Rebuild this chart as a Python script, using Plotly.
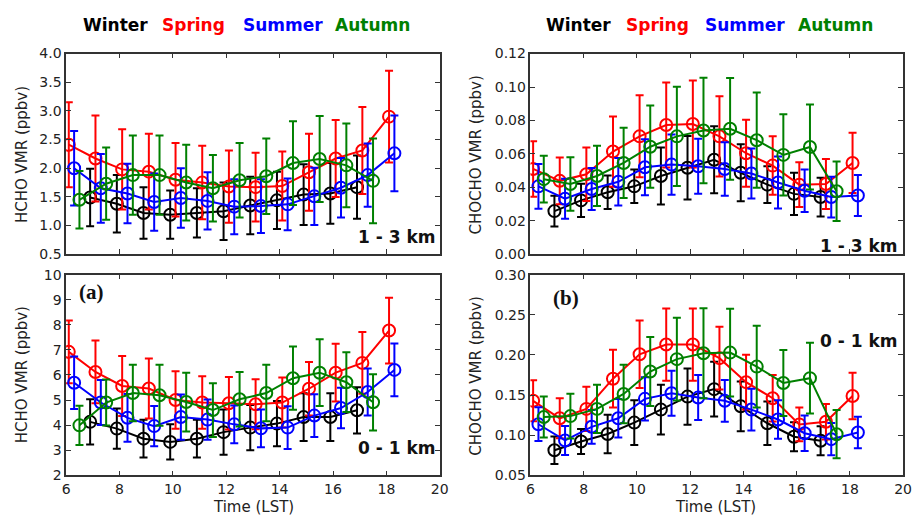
import plotly.graph_objects as go

# ---------------- data ----------------
winter_t = [6.9, 7.9, 8.9, 9.9, 10.9, 11.9, 12.9, 13.9, 14.9, 15.9, 16.9]
spring_t = [6.1, 7.1, 8.1, 9.1, 10.1, 11.1, 12.1, 13.1, 14.1, 15.1, 16.1, 17.1, 18.1]
summer_t = [6.3, 7.3, 8.3, 9.3, 10.3, 11.3, 12.3, 13.3, 14.3, 15.3, 16.3, 17.3, 18.3]
autumn_t = [6.5, 7.5, 8.5, 9.5, 10.5, 11.5, 12.5, 13.5, 14.5, 15.5, 16.5, 17.5]

# HCHO 1-3 km
hcho13_winter = [1.49, 1.38, 1.22, 1.19, 1.22, 1.25, 1.35, 1.44, 1.54, 1.56, 1.67]
hcho13_winter_err = [0.5, 0.5, 0.45, 0.42, 0.43, 0.5, 0.5, 0.5, 0.53, 0.53, 0.55]
hcho13_spring = [2.41, 2.17, 1.98, 1.94, 1.80, 1.75, 1.68, 1.67, 1.69, 1.93, 2.17, 2.31, 2.90]
hcho13_spring_err = [0.74, 0.75, 0.7, 0.66, 0.64, 0.64, 0.63, 0.6, 0.6, 0.67, 0.67, 0.76, 0.8]
hcho13_summer = [2.0, 1.65, 1.56, 1.41, 1.48, 1.43, 1.33, 1.34, 1.37, 1.51, 1.66, 1.88, 2.26]
hcho13_summer_err = [0.65, 0.6, 0.52, 0.5, 0.52, 0.5, 0.48, 0.47, 0.45, 0.5, 0.52, 0.55, 0.66]
hcho13_autumn = [1.45, 1.73, 1.88, 1.88, 1.75, 1.65, 1.79, 1.86, 2.09, 2.16, 2.05, 1.78]
hcho13_autumn_err = [0.5, 0.63, 0.69, 0.69, 0.66, 0.58, 0.65, 0.66, 0.73, 0.75, 0.73, 0.74]

# HCHO 0-1 km
hcho01_winter = [4.13, 3.86, 3.46, 3.33, 3.46, 3.72, 3.9, 4.06, 4.32, 4.32, 4.59]
hcho01_winter_err = [0.9, 0.8, 0.75, 0.7, 0.75, 0.9, 0.9, 0.9, 0.95, 0.95, 0.92]
hcho01_spring = [6.92, 6.12, 5.56, 5.46, 5.0, 4.9, 4.87, 4.83, 4.9, 5.45, 6.09, 6.48, 7.77]
hcho01_spring_err = [1.25, 1.25, 1.2, 1.2, 1.15, 1.05, 1.05, 1.0, 1.0, 1.07, 1.15, 1.23, 1.31]
hcho01_summer = [5.69, 4.9, 4.29, 3.96, 4.32, 4.22, 4.03, 3.87, 3.9, 4.38, 4.68, 5.32, 6.2]
hcho01_summer_err = [1.05, 0.9, 0.95, 0.8, 0.9, 0.8, 0.75, 0.75, 0.85, 0.85, 0.81, 0.94, 1.05]
hcho01_autumn = [3.99, 4.9, 5.28, 5.19, 4.92, 4.6, 5.03, 5.28, 5.87, 6.09, 5.71, 4.91]
hcho01_autumn_err = [0.78, 0.92, 1.13, 1.22, 1.17, 1.07, 1.09, 1.13, 1.26, 1.33, 1.19, 1.12]

# CHOCHO 1-3 km
chocho13_winter = [0.0258, 0.0322, 0.0371, 0.0406, 0.0468, 0.0517, 0.0565, 0.0487, 0.0416, 0.0361, 0.0342]
chocho13_winter_err = [0.0092, 0.01, 0.01, 0.01, 0.017, 0.019, 0.02, 0.017, 0.011, 0.0126, 0.0116]
chocho13_spring = [0.051, 0.0439, 0.0478, 0.0614, 0.0705, 0.0773, 0.0779, 0.0705, 0.0604, 0.053, 0.0416, 0.042, 0.0546]
chocho13_spring_err = [0.0166, 0.014, 0.016, 0.021, 0.0245, 0.0254, 0.026, 0.024, 0.02, 0.0175, 0.0134, 0.015, 0.018]
chocho13_summer = [0.0406, 0.0332, 0.039, 0.0433, 0.052, 0.0536, 0.0526, 0.051, 0.0483, 0.0429, 0.038, 0.0342, 0.0351]
chocho13_summer_err = [0.0134, 0.012, 0.0126, 0.0142, 0.0167, 0.018, 0.0165, 0.016, 0.015, 0.0155, 0.0127, 0.0122, 0.0123]
chocho13_autumn = [0.0449, 0.042, 0.0468, 0.0546, 0.0643, 0.0705, 0.074, 0.075, 0.0682, 0.0594, 0.0641, 0.0377]
chocho13_autumn_err = [0.014, 0.016, 0.018, 0.021, 0.0246, 0.0297, 0.0316, 0.0304, 0.0285, 0.0243, 0.0254, 0.0178]

# CHOCHO 0-1 km
chocho01_winter = [0.0812, 0.0921, 0.1014, 0.1156, 0.1318, 0.148, 0.1573, 0.1359, 0.1148, 0.098, 0.093]
chocho01_winter_err = [0.017, 0.0155, 0.024, 0.028, 0.031, 0.035, 0.034, 0.031, 0.027, 0.018, 0.018]
chocho01_spring = [0.1428, 0.121, 0.1327, 0.1703, 0.2007, 0.2129, 0.2129, 0.1959, 0.166, 0.146, 0.1134, 0.1167, 0.1488]
chocho01_spring_err = [0.0255, 0.025, 0.0275, 0.036, 0.042, 0.045, 0.045, 0.039, 0.034, 0.029, 0.021, 0.022, 0.029]
chocho01_summer = [0.1136, 0.0934, 0.1104, 0.121, 0.1452, 0.1521, 0.1468, 0.1428, 0.1318, 0.1195, 0.1024, 0.095, 0.1033]
chocho01_summer_err = [0.021, 0.018, 0.021, 0.024, 0.027, 0.028, 0.028, 0.026, 0.026, 0.024, 0.022, 0.02, 0.0195]
chocho01_autumn = [0.1225, 0.1237, 0.1327, 0.1513, 0.1793, 0.1947, 0.202, 0.2028, 0.1854, 0.165, 0.171, 0.1012]
chocho01_autumn_err = [0.0255, 0.028, 0.03, 0.0365, 0.043, 0.0514, 0.056, 0.0547, 0.051, 0.041, 0.044, 0.03]

season_names = ["Winter", "Spring", "Summer", "Autumn"]
season_colors = ["#000000", "#ff0000", "#0000ff", "#008000"]
season_times = [winter_t, spring_t, summer_t, autumn_t]

panels = [
    ("x", "y", [hcho13_winter, hcho13_spring, hcho13_summer, hcho13_autumn],
     [hcho13_winter_err, hcho13_spring_err, hcho13_summer_err, hcho13_autumn_err]),
    ("x2", "y2", [chocho13_winter, chocho13_spring, chocho13_summer, chocho13_autumn],
     [chocho13_winter_err, chocho13_spring_err, chocho13_summer_err, chocho13_autumn_err]),
    ("x3", "y3", [hcho01_winter, hcho01_spring, hcho01_summer, hcho01_autumn],
     [hcho01_winter_err, hcho01_spring_err, hcho01_summer_err, hcho01_autumn_err]),
    ("x4", "y4", [chocho01_winter, chocho01_spring, chocho01_summer, chocho01_autumn],
     [chocho01_winter_err, chocho01_spring_err, chocho01_summer_err, chocho01_autumn_err]),
]

W, H = 921, 524
FONT = "DejaVu Sans"


def px_x(x):
    return x / W


def px_y(y):
    return 1 - y / H


fig = go.Figure()
for xa, ya, vals, errs in panels:
    for name, col, t, v, e in zip(season_names, season_colors, season_times, vals, errs):
        fig.add_trace(go.Scatter(
            x=t, y=v, xaxis=xa, yaxis=ya, mode="lines+markers", name=name,
            showlegend=False,
            line=dict(color=col, width=2),
            marker=dict(symbol="circle-open", size=12, color=col, line=dict(width=2, color=col)),
            error_y=dict(type="data", array=e, visible=True, color=col, thickness=2, width=4),
        ))

axis_common = dict(
    showline=True, linecolor="#333333", linewidth=1.5, mirror="allticks",
    ticks="inside", ticklen=5, tickwidth=1, tickcolor="#333333",
    showgrid=False, zeroline=False,
    tickfont=dict(family=FONT, size=14, color="#222222"),
)

xl = [px_x(63), px_x(442)]
xr = [px_x(534), px_x(912)]
yt = [px_y(254), px_y(47)]
yb = [px_y(482), px_y(275)]

fig.update_layout(
    width=W, height=H, margin=dict(l=0, r=0, t=0, b=0),
    paper_bgcolor="white", plot_bgcolor="white",
    font=dict(family=FONT, color="#222222"),
    xaxis=dict(domain=xl, anchor="y", range=[6, 20], dtick=2, showticklabels=False, **axis_common),
    yaxis=dict(domain=yt, anchor="x", range=[0.5, 4.0], dtick=0.5, tickformat=".1f", **axis_common),
    xaxis2=dict(domain=xr, anchor="y2", range=[6, 20], dtick=2, showticklabels=False, **axis_common),
    yaxis2=dict(domain=yt, anchor="x2", range=[0, 0.12], dtick=0.02, tickformat=".2f", **axis_common),
    xaxis3=dict(domain=xl, anchor="y3", range=[6, 20], dtick=2, **axis_common),
    yaxis3=dict(domain=yb, anchor="x3", range=[2, 10], dtick=1, **axis_common),
    xaxis4=dict(domain=xr, anchor="y4", range=[6, 20], dtick=2, **axis_common),
    yaxis4=dict(domain=yb, anchor="x4", range=[0.05, 0.30], dtick=0.05, tickformat=".2f", **axis_common),
)

ann = []
# seasonal legends
for x0 in (78, 548):
    offsets = [0, 80, 162, 256] if x0 == 78 else [0, 81, 161, 255]
    for name, col, off in zip(season_names, season_colors, offsets):
        ann.append(dict(x=px_x(x0 + off), y=px_y(18), xref="paper", yref="paper",
                        text=f"<b>{name}</b>", showarrow=False, xanchor="left", yanchor="middle",
                        font=dict(family=FONT, size=17, color=col)))

# y-axis titles
for cx, cy, txt in [(19, 151, "HCHO VMR (ppbv)"), (479, 152, "CHOCHO VMR (ppbv)"),
                    (19, 378, "HCHO VMR (ppbv)"), (479, 380, "CHOCHO VMR (ppbv)")]:
    ann.append(dict(x=px_x(cx), y=px_y(cy), xref="paper", yref="paper", text=txt,
                    textangle=-90, showarrow=False, xanchor="center", yanchor="middle",
                    font=dict(family=FONT, size=15, color="#222222")))

# x-axis titles
for cx in (253, 722):
    ann.append(dict(x=px_x(cx), y=px_y(515), xref="paper", yref="paper", text="Time (LST)",
                    showarrow=False, xanchor="center", yanchor="middle",
                    font=dict(family=FONT, size=15, color="#222222")))

# altitude labels
for rx, cy, txt in [(440, 236, "1 - 3 km"), (909, 246, "1 - 3 km"),
                    (440, 454, "0 - 1 km"), (909, 344, "0 - 1 km")]:
    ann.append(dict(x=px_x(rx), y=px_y(cy), xref="paper", yref="paper", text=f"<b>{txt}</b>",
                    showarrow=False, xanchor="right", yanchor="middle",
                    font=dict(family=FONT, size=17, color="#111111")))

# panel labels
for lx, cy, txt in [(74, 293, "(a)"), (555, 299, "(b)")]:
    ann.append(dict(x=px_x(lx), y=px_y(cy), xref="paper", yref="paper", text=f"<b>{txt}</b>",
                    showarrow=False, xanchor="left", yanchor="middle",
                    font=dict(family="Liberation Serif", size=21, color="#111111")))

fig.update_layout(annotations=ann)
fig.write_html("out.html")
